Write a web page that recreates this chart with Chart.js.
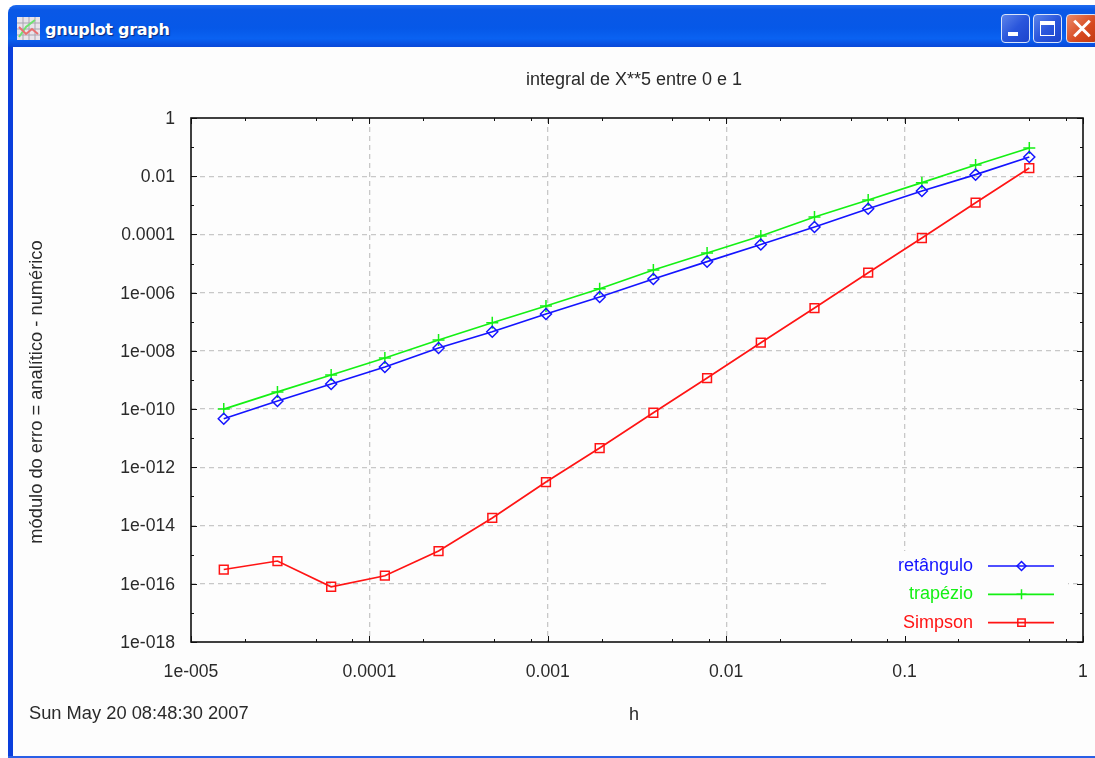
<!DOCTYPE html>
<html>
<head>
<meta charset="utf-8">
<title>gnuplot graph</title>
<script src="https://cdn.jsdelivr.net/npm/chart.js@4/dist/chart.umd.min.js"></script>
<style>
    html, body { margin: 0; padding: 0; background: #fff; overflow: hidden; }
    #janela { position: relative; width: 1095px; height: 758px; overflow: hidden; }
    #cliente { position: absolute; left: 13px; top: 47px; right: 0; bottom: 2px; background: #fdfdfd; }
    #bordaEsq { position: absolute; left: 8px; top: 20px; width: 5px; bottom: 0; background: #0a3fdc; }
    #bordaInf { position: absolute; left: 8px; right: 0; bottom: 0; height: 2px; background: #2a5fe6; }
    #barra { position: absolute; left: 8px; right: 0; top: 5px; height: 42px; border-top-left-radius: 8px;
        background: linear-gradient(#1f6cf0 0%, #0a58e6 12%, #0658e8 55%, #0a62f2 80%, #0a48d8 100%); }
    #tituloJanela { position: absolute; left: 45px; top: 20px; color: #fff; font: bold 16px "DejaVu Sans", sans-serif;
        letter-spacing: -0.3px; text-shadow: 1px 1px 1px #0a2a80; }
    #icone { position: absolute; left: 17px; top: 17px; }
    .botao { position: absolute; top: 14px; width: 27px; height: 27px; border: 1px solid #d8e4fa; border-radius: 4px;
        background: linear-gradient(135deg, #5c84ea, #2a56dc 50%, #1c44cc); }
    #fechar { background: linear-gradient(135deg, #ec8a68, #d6481e 60%, #c23a12); width: 30px; }
    .glifo { position: absolute; background: #fff; }
    canvas { position: absolute; left: 0; top: 0; filter: blur(0.4px); }
</style>
</head>
<body>
<div id="janela">
    <div id="cliente"></div>
    <div id="bordaEsq"></div>
    <div id="bordaInf"></div>
    <div id="barra"></div>
    <svg id="icone" width="23" height="23" viewBox="0 0 23 23">
        <rect width="23" height="23" fill="#e8e4ea"/>
        <path d="M0 6H23M0 12H23M0 18H23M6 0V23M12 0V23M18 0V23" stroke="#a8a4b0" stroke-width="1"/>
        <path d="M2 20L9 10L18 3" stroke="#70e070" stroke-width="2" fill="none"/>
        <path d="M2 10L9 17L15 12L21 17" stroke="#e87070" stroke-width="2" fill="none"/>
    </svg>
    <div id="tituloJanela">gnuplot graph</div>
    <div class="botao" style="left:1001px">
        <div class="glifo" style="left:6px;top:17px;width:10px;height:4px"></div>
    </div>
    <div class="botao" style="left:1033px">
        <div style="position:absolute;left:6px;top:6px;width:13px;height:10px;border:1.5px solid #fff;border-top-width:4px"></div>
    </div>
    <div class="botao" id="fechar" style="left:1066px">
        <div class="glifo" style="left:4px;top:12px;width:22px;height:3px;transform:rotate(45deg)"></div>
        <div class="glifo" style="left:4px;top:12px;width:22px;height:3px;transform:rotate(-45deg)"></div>
    </div>
    <canvas id="graficoErro" width="1095" height="758"></canvas>
</div>

<script>
const passos = [1.526e-5, 3.052e-5, 6.104e-5, 1.221e-4, 2.441e-4, 4.883e-4, 9.766e-4, 1.953e-3,
    3.906e-3, 7.813e-3, 1.563e-2, 3.125e-2, 6.25e-2, 0.125, 0.25, 0.5];

const erroRetangulo = [4.68e-11, 1.9e-10, 7.3e-10, 2.8e-9, 1.26e-8, 4.56e-8, 1.85e-7, 7.1e-7,
    2.94e-6, 1.16e-5, 4.5e-5, 1.8e-4, 7.66e-4, 3.1e-3, 1.13e-2, 4.57e-2];
const erroTrapezio = [1.0e-10, 3.9e-10, 1.48e-9, 5.7e-9, 2.37e-8, 9.3e-8, 3.5e-7, 1.37e-6,
    6.0e-6, 2.3e-5, 8.8e-5, 3.97e-4, 1.52e-3, 6.0e-3, 2.43e-2, 9.3e-2];
const erroSimpson = [3.09e-16, 6.05e-16, 7.9e-17, 1.89e-16, 1.33e-15, 1.82e-14, 3.13e-13, 4.6e-12,
    7.5e-11, 1.17e-9, 1.91e-8, 2.97e-7, 4.85e-6, 7.55e-5, 1.23e-3, 1.91e-2];

const ticksX = [1e-5, 1e-4, 1e-3, 1e-2, 1e-1, 1];
const rotulosX = ["1e-005", "0.0001", "0.001", "0.01", "0.1", "1"];
const menoresX = [2e-5, 5e-5, 8e-5, 2e-4, 5e-4, 8e-4, 2e-3, 5e-3, 8e-3, 2e-2, 5e-2, 8e-2, 0.2, 0.5, 0.8];

const ticksY = [1, 1e-2, 1e-4, 1e-6, 1e-8, 1e-10, 1e-12, 1e-14, 1e-16, 1e-18];
const rotulosY = ["1", "0.01", "0.0001", "1e-006", "1e-008", "1e-010", "1e-012", "1e-014", "1e-016", "1e-018"];
const menoresY = [1e-1, 1e-3, 1e-5, 1e-7, 1e-9, 1e-11, 1e-13, 1e-15, 1e-17];

const FONTE = '"Liberation Sans", Arial, sans-serif';
const COR_TEXTO = "#2a2a2a";

function serie(rotulo, valores, cor, estilo, raio) {
    return {
        label: rotulo,
        data: passos.map((h, i) => ({ x: h, y: valores[i] })),
        borderColor: cor,
        borderWidth: 1.7,
        backgroundColor: "transparent",
        pointStyle: estilo,
        pointRadius: raio,
        pointBorderColor: cor,
        pointBorderWidth: 1.5,
        pointBackgroundColor: "transparent",
        tension: 0,
        clip: false
    };
}

// Moldura, marcas internas e a caixa da legenda (estilo gnuplot)
const molduraGnuplot = {
    id: "molduraGnuplot",
    beforeDatasetsDraw(chart) {
        const { ctx, chartArea: a, scales } = chart;
        ctx.save();
        ctx.fillStyle = "#fdfdfd";
        ctx.fillRect(828, 551, 240, a.bottom - 551);

        ctx.strokeStyle = "#111";
        ctx.lineWidth = 1;
        ctx.beginPath();
        const marcaX = (v, n) => {
            const x = Math.round(scales.x.getPixelForValue(v)) + 0.5;
            ctx.moveTo(x, a.bottom); ctx.lineTo(x, a.bottom - n);
            ctx.moveTo(x, a.top); ctx.lineTo(x, a.top + n);
        };
        const marcaY = (v, n) => {
            const y = Math.round(scales.y.getPixelForValue(v)) + 0.5;
            ctx.moveTo(a.left, y); ctx.lineTo(a.left + n, y);
            ctx.moveTo(a.right, y); ctx.lineTo(a.right - n, y);
        };
        ticksX.forEach(v => marcaX(v, 6));
        menoresX.forEach(v => marcaX(v, 3));
        ticksY.forEach(v => marcaY(v, 6));
        menoresY.forEach(v => marcaY(v, 3));
        ctx.stroke();

        ctx.lineWidth = 1.6;
        ctx.strokeRect(a.left, a.top, a.right - a.left, a.bottom - a.top);
        ctx.restore();
    },
    afterDatasetsDraw(chart) {
        const { ctx } = chart;
        ctx.save();
        // legenda com o texto antes da amostra
        ctx.font = "18px " + FONTE;
        ctx.textAlign = "right";
        ctx.textBaseline = "middle";
        chart.data.datasets.forEach((ds, i) => {
            const y = 566 + i * 28.3;
            ctx.fillStyle = ds.borderColor;
            ctx.fillText(ds.label, 973, y);
            ctx.strokeStyle = ds.borderColor;
            ctx.lineWidth = ds.borderWidth;
            ctx.beginPath();
            ctx.moveTo(988, y);
            ctx.lineTo(1054, y);
            ctx.stroke();
            ctx.lineWidth = ds.pointBorderWidth;
            ctx.fillStyle = "transparent";
            Chart.helpers.drawPoint(ctx, { pointStyle: ds.pointStyle, radius: ds.pointRadius - 1, rotation: 0, borderWidth: ds.pointBorderWidth }, 1021.5, y);
        });

        // titulos e carimbo de data
        ctx.fillStyle = COR_TEXTO;
        ctx.font = "18px " + FONTE;
        ctx.textAlign = "center";
        ctx.fillText("integral de X**5 entre 0 e 1", 634, 80);
        ctx.fillText("h", 634, 715);
        ctx.textAlign = "left";
        ctx.font = "18.3px " + FONTE;
        ctx.fillText("Sun May 20 08:48:30 2007", 29, 714);
        ctx.translate(37, 392);
        ctx.rotate(-Math.PI / 2);
        ctx.textAlign = "center";
        ctx.fillText("módulo do erro = analítico - numérico", 0, 0);
        ctx.restore();
    }
};

new Chart(document.getElementById("graficoErro"), {
    type: "line",
    data: {
        datasets: [
            serie("retângulo", erroRetangulo, "#1414ff", "rectRot", 5.5),
            serie("trapézio", erroTrapezio, "#14f014", "cross", 6),
            serie("Simpson", erroSimpson, "#ff1414", "rect", 6.2)
        ]
    },
    options: {
        responsive: false,
        animation: false,
        layout: { padding: { left: 30, top: 118, right: 12, bottom: 40 } },
        plugins: { legend: { display: false }, title: { display: false }, tooltip: { enabled: false } },
        scales: {
            x: {
                type: "logarithmic",
                min: 1e-5,
                max: 1,
                afterBuildTicks: scale => { scale.ticks = ticksX.map(v => ({ value: v })); },
                afterFit: scale => {
                    scale.height = 758 - 642 - 40;
                    scale.paddingLeft = 0;
                    scale.paddingRight = 0;
                },
                grid: {
                    drawTicks: false,
                    lineWidth: 1.3,
                    color: c => (c.tick && (c.tick.value === 1e-5 || c.tick.value === 1)) ? "transparent" : "#c8c8c8"
                },
                border: { display: false, dash: [5, 4] },
                ticks: {
                    autoSkip: false,
                    maxRotation: 0,
                    padding: 20,
                    color: COR_TEXTO,
                    font: { family: FONTE, size: 17.6 },
                    callback: (v, i) => rotulosX[i]
                }
            },
            y: {
                type: "logarithmic",
                min: 1e-18,
                max: 1,
                afterBuildTicks: scale => { scale.ticks = ticksY.map(v => ({ value: v })); },
                afterFit: scale => {
                    scale.width = 191 - 30;
                    scale.paddingTop = 0;
                    scale.paddingBottom = 0;
                },
                grid: {
                    drawTicks: false,
                    lineWidth: 1.3,
                    color: c => (c.tick && (c.tick.value === 1 || c.tick.value === 1e-18)) ? "transparent" : "#c8c8c8"
                },
                border: { display: false, dash: [5, 4] },
                ticks: {
                    autoSkip: false,
                    padding: 16,
                    labelOffset: 1,
                    color: COR_TEXTO,
                    font: { family: FONTE, size: 17.6 },
                    callback: (v, i) => rotulosY[i]
                }
            }
        }
    },
    plugins: [molduraGnuplot]
});
</script>
</body>
</html>
